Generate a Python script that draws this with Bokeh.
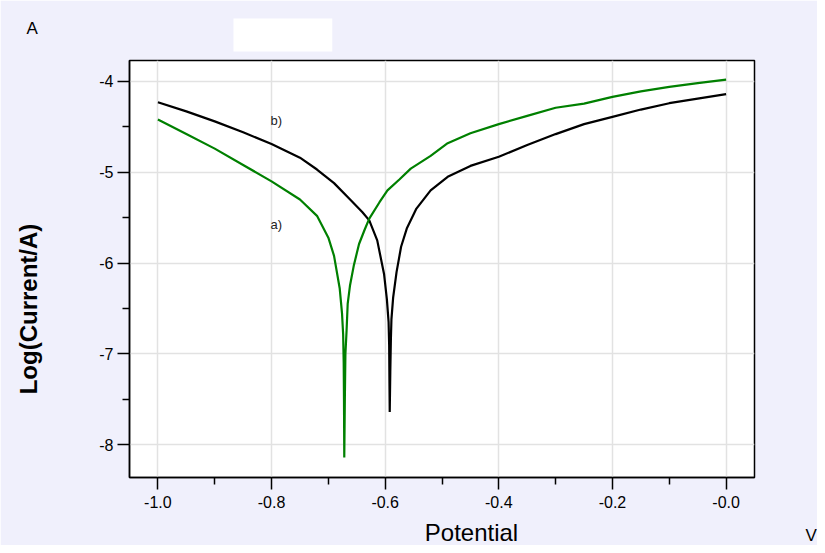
import math
from bokeh.plotting import figure
from bokeh.models import Range1d, FixedTicker, Label
from bokeh.embed import file_html
from bokeh.resources import INLINE

# ---- data ----
pot_b = [-1.0, -0.95, -0.90, -0.85, -0.80, -0.75, -0.72, -0.69, -0.66, -0.64,
         -0.628, -0.614, -0.602, -0.597, -0.594, -0.593, -0.5925, -0.592, -0.591,
         -0.590, -0.589, -0.586, -0.580, -0.572, -0.562, -0.545, -0.52, -0.49,
         -0.45, -0.40, -0.35, -0.30, -0.25, -0.20, -0.15, -0.10, -0.05, 0.0]
logi_b = [-4.23, -4.33, -4.44, -4.56, -4.69, -4.84, -4.97, -5.12, -5.31, -5.44,
          -5.53, -5.75, -6.12, -6.40, -6.65, -6.90, -7.30, -7.64, -7.20,
          -6.85, -6.62, -6.38, -6.10, -5.82, -5.62, -5.40, -5.20, -5.05,
          -4.93, -4.83, -4.70, -4.58, -4.47, -4.39, -4.31, -4.24, -4.19, -4.14]

pot_a = [-1.0, -0.95, -0.90, -0.85, -0.80, -0.75, -0.72, -0.70, -0.69, -0.68,
         -0.676, -0.674, -0.673, -0.6725, -0.672, -0.671, -0.670, -0.668, -0.666,
         -0.662, -0.655, -0.646, -0.636, -0.628, -0.61, -0.596, -0.575, -0.555,
         -0.52, -0.49, -0.45, -0.40, -0.35, -0.30, -0.25, -0.20, -0.15, -0.10,
         -0.05, 0.0]
logi_a = [-4.42, -4.58, -4.74, -4.92, -5.10, -5.30, -5.48, -5.72, -5.92, -6.28,
          -6.55, -6.78, -7.10, -7.50, -8.14, -7.50, -7.00, -6.75, -6.45,
          -6.25, -6.02, -5.79, -5.63, -5.51, -5.33, -5.20, -5.08, -4.96,
          -4.82, -4.68, -4.57, -4.47, -4.38, -4.29, -4.245, -4.17, -4.11, -4.06,
          -4.02, -3.98]

x_ticks = [-1.0, -0.8, -0.6, -0.4, -0.2, 0.0]
x_minor = [-0.9, -0.7, -0.5, -0.3, -0.1]
x_labels = ["-1.0", "-0.8", "-0.6", "-0.4", "-0.2", "-0.0"]
y_ticks = [-4, -5, -6, -7, -8]
y_minor = [-4.5, -5.5, -6.5, -7.5]
y_labels = ["-4", "-5", "-6", "-7", "-8"]

BG = "#f0f0fc"
FONT = "Liberation Sans"

p = figure(width=817, height=545, output_backend="svg", toolbar_location=None,
           title=None,
           x_range=Range1d(-1.05, 0.05), y_range=Range1d(-8.36, -3.77),
           min_border_left=129, min_border_right=63, min_border_top=60,
           min_border_bottom=68)
p.background_fill_color = "white"
p.border_fill_color = BG
p.outline_line_color = "black"
p.outline_line_width = 1.5

p.line(pot_b, logi_b, line_color="black", line_width=2.2)
p.line(pot_a, logi_a, line_color="#008000", line_width=2.2)

p.xaxis.ticker = FixedTicker(ticks=x_ticks, minor_ticks=x_minor)
p.yaxis.ticker = FixedTicker(ticks=y_ticks, minor_ticks=y_minor)
p.xaxis.major_label_overrides = {t: l for t, l in zip(x_ticks, x_labels)}
p.yaxis.major_label_overrides = {t: l for t, l in zip(y_ticks, y_labels)}

for ax in (p.xaxis, p.yaxis):
    ax.axis_line_width = 1.5
    ax.axis_line_color = "black"
    ax.major_tick_line_width = 1.5
    ax.minor_tick_line_width = 1.5
    ax.major_tick_out = 12
    ax.major_tick_in = 0
    ax.minor_tick_out = 7
    ax.minor_tick_in = 0
    ax.major_label_text_font = FONT
    ax.major_label_text_font_size = "16px"
    ax.major_label_text_color = "black"
    ax.axis_label_text_font = FONT
    ax.axis_label_text_color = "black"
p.xaxis.major_label_standoff = 6
p.yaxis.major_label_standoff = 4

p.yaxis.axis_label = "Log(Current/A)" + "\u00a0" * 12
p.yaxis.axis_label_text_font_size = "24px"
p.yaxis.axis_label_text_font_style = "bold"
p.yaxis.axis_label_standoff = 54

p.xgrid.ticker = FixedTicker(ticks=x_ticks)
p.ygrid.ticker = FixedTicker(ticks=y_ticks)
p.grid.grid_line_color = "#e2e2e2"
p.grid.grid_line_width = 1.5


def lab(x, y, text, size, color="black", **kw):
    return Label(x=x, y=y, text=text, text_font=FONT,
                 text_font_size=size, text_color=color, **kw)

# texts inside the frame
p.add_layout(lab(-0.802, -4.425, "b)", "13px", color="#222222",
                 text_baseline="alphabetic"))
p.add_layout(lab(-0.802, -5.575, "a)", "13px", color="#222222",
                 text_baseline="alphabetic"))

# texts in side panels (screen units relative to each panel)
p.add_layout(lab(-103, 32, "A", "17px", x_units="screen", y_units="screen",
                 text_baseline="alphabetic"), "above")
p.add_layout(lab(104, -10, "\u00a0", "10px", x_units="screen", y_units="screen",
                 text_baseline="bottom", background_fill_color="white",
                 padding=(48, 11)), "above")
p.add_layout(lab(342, 5, "Potential", "24px", x_units="screen", y_units="screen",
                 text_align="center", text_baseline="middle"), "below")
p.add_layout(lab(51, -58, "V", "17px", x_units="screen", y_units="screen",
                 text_baseline="alphabetic"), "right")

open("out.html", "w").write(file_html(p, INLINE))
